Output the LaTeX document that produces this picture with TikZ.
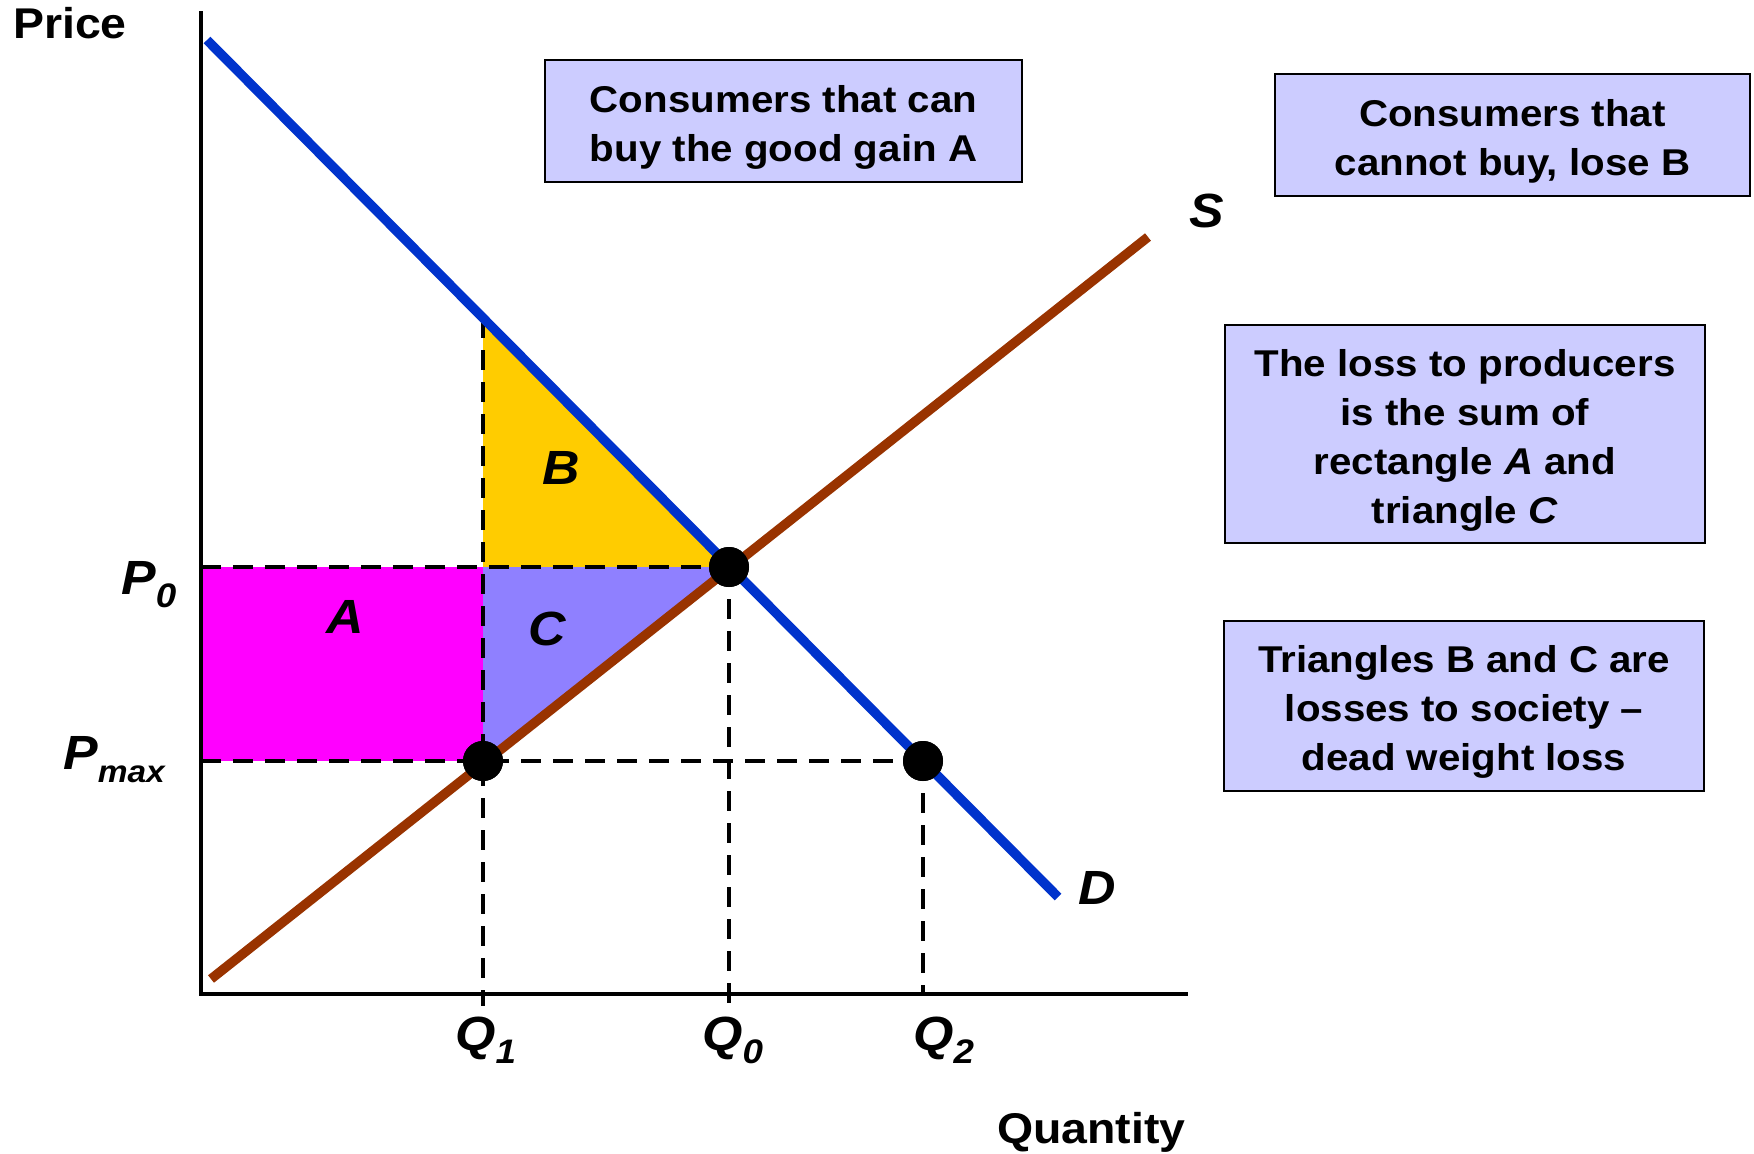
\documentclass[tikz,border=0pt]{standalone}
\usepackage{fontspec}
\setmainfont[FakeStretch=1.08]{Liberation Sans}
\definecolor{blueD}{RGB}{0,51,204}
\definecolor{brownS}{RGB}{153,51,0}
\definecolor{boxfill}{RGB}{204,204,255}
\definecolor{yellowB}{RGB}{255,204,0}
\definecolor{magA}{RGB}{255,0,255}
\definecolor{purpC}{RGB}{143,128,255}
\newcommand\lowsub[2][34]{\raisebox{-13pt}{\fontsize{#1}{#1}\selectfont #2}}
\begin{document}
\begin{tikzpicture}[x=1pt,y=-1pt,
  axisline/.style={line width=4.5pt,line cap=rect},
  guide/.style={line width=4.5pt,dash pattern=on 20pt off 12pt},
  curveD/.style={line width=9.5pt,color=blueD},
  curveS/.style={line width=9.5pt,color=brownS},
  dotnode/.style={circle,fill=black,minimum size=40pt,inner sep=0pt},
  infobox/.style={draw=black,line width=2.5pt,fill=boxfill,inner sep=0pt},
  infotext/.style={align=center,inner sep=0pt,yshift=-6pt,
    font=\fontsize{37.3}{49}\selectfont\bfseries},
  biglab/.style={inner sep=0pt,font=\fontsize{48}{48}\selectfont\bfseries\itshape},
  axlab/.style={inner sep=0pt,font=\fontsize{43}{43}\selectfont\bfseries}]
\useasboundingbox[fill=white] (0,0) rectangle (1754,1154);

% key coordinates
\coordinate (O) at (201,994);
\coordinate (Ytop) at (201,13);
\coordinate (Xend) at (1186,994);
\coordinate (Dstart) at (207,40);
\coordinate (Dend) at (1058,897);
\coordinate (Sstart) at (211,979);
\coordinate (Send) at (1148,237);
\coordinate (Btop) at (483,318);
\coordinate (P0L) at (201,567);
\coordinate (PmL) at (201,761);
\coordinate (Q1P0) at (483,567);
\coordinate (Q1B) at (483,1006);
\coordinate (Q0B) at (729,1006);
\coordinate (Q2B) at (923,994);

% areas
\fill[magA] (203,567) rectangle (483,761);
\fill[yellowB] (Btop) -- (Q1P0) -- (729,567) -- cycle;
\fill[purpC] (Q1P0) -- (729,567) -- (483,761) -- cycle;

% dots (named)
\node[dotnode] (e0) at (729,567) {};
\node[dotnode] (e1) at (483,761) {};
\node[dotnode] (e2) at (923,761) {};

% guides
\draw[guide] (P0L) -- (e0.center);
\draw[guide] (PmL) -- (e2.center);
\draw[guide] (Btop) -- (Q1B);
\draw[guide] (e0.center) -- (Q0B);
\draw[guide] (e2.center) -- (Q2B);

% axes
\draw[axisline] (Ytop) -- (O) -- (Xend);

% curves
\draw[curveD] (Dstart) -- (Dend);
\draw[curveS] (Sstart) -- (Send);

% redraw dots on top
\node[dotnode] at (e0) {};
\node[dotnode] at (e1) {};
\node[dotnode] at (e2) {};

% labels
\node[axlab,anchor=base west] (price) at (13,38) {Price};
\node[axlab,anchor=base west] (qty) at (997,1143) {Quantity};
\node[biglab] (lS) at (1207,211) {S};
\node[biglab] (lD) at (1097,888) {D};
\node[biglab] (lA) at (345,617) {A};
\node[biglab] (lB) at (561,468) {B};
\node[biglab] (lC) at (547,629) {C};
\node[biglab,anchor=base west] (lP0) at (121,594) {P\lowsub{0}};
\node[biglab,anchor=base west] (lPm) at (63,769) {P\lowsub[31]{max}};
\node[biglab,anchor=base west] (lQ1) at (455,1050) {Q\lowsub{1}};
\node[biglab,anchor=base west] (lQ0) at (702,1050) {Q\lowsub{0}};
\node[biglab,anchor=base west] (lQ2) at (913,1050) {Q\lowsub{2}};

% info boxes
\node[infobox,minimum width=477pt,minimum height=122pt] (box1) at (783.5,121) {};
\node[infotext] (box1text) at (box1.center) {Consumers that can\\buy the good gain A};
\node[infobox,minimum width=475pt,minimum height=122pt] (box2) at (1512.5,135) {};
\node[infotext] (box2text) at (box2.center) {Consumers that\\cannot buy, lose B};
\node[infobox,minimum width=480pt,minimum height=218pt] (box3) at (1465,434) {};
\node[infotext] (box3text) at (box3.center)
  {The loss to producers\\is the sum of\\rectangle \textit{A} and\\triangle \textit{C}};
\node[infobox,minimum width=480pt,minimum height=170pt] (box4) at (1464,706) {};
\node[infotext] (box4text) at (box4.center)
  {Triangles B and C are\\losses to society --\\dead weight loss};
\end{tikzpicture}
\end{document}
